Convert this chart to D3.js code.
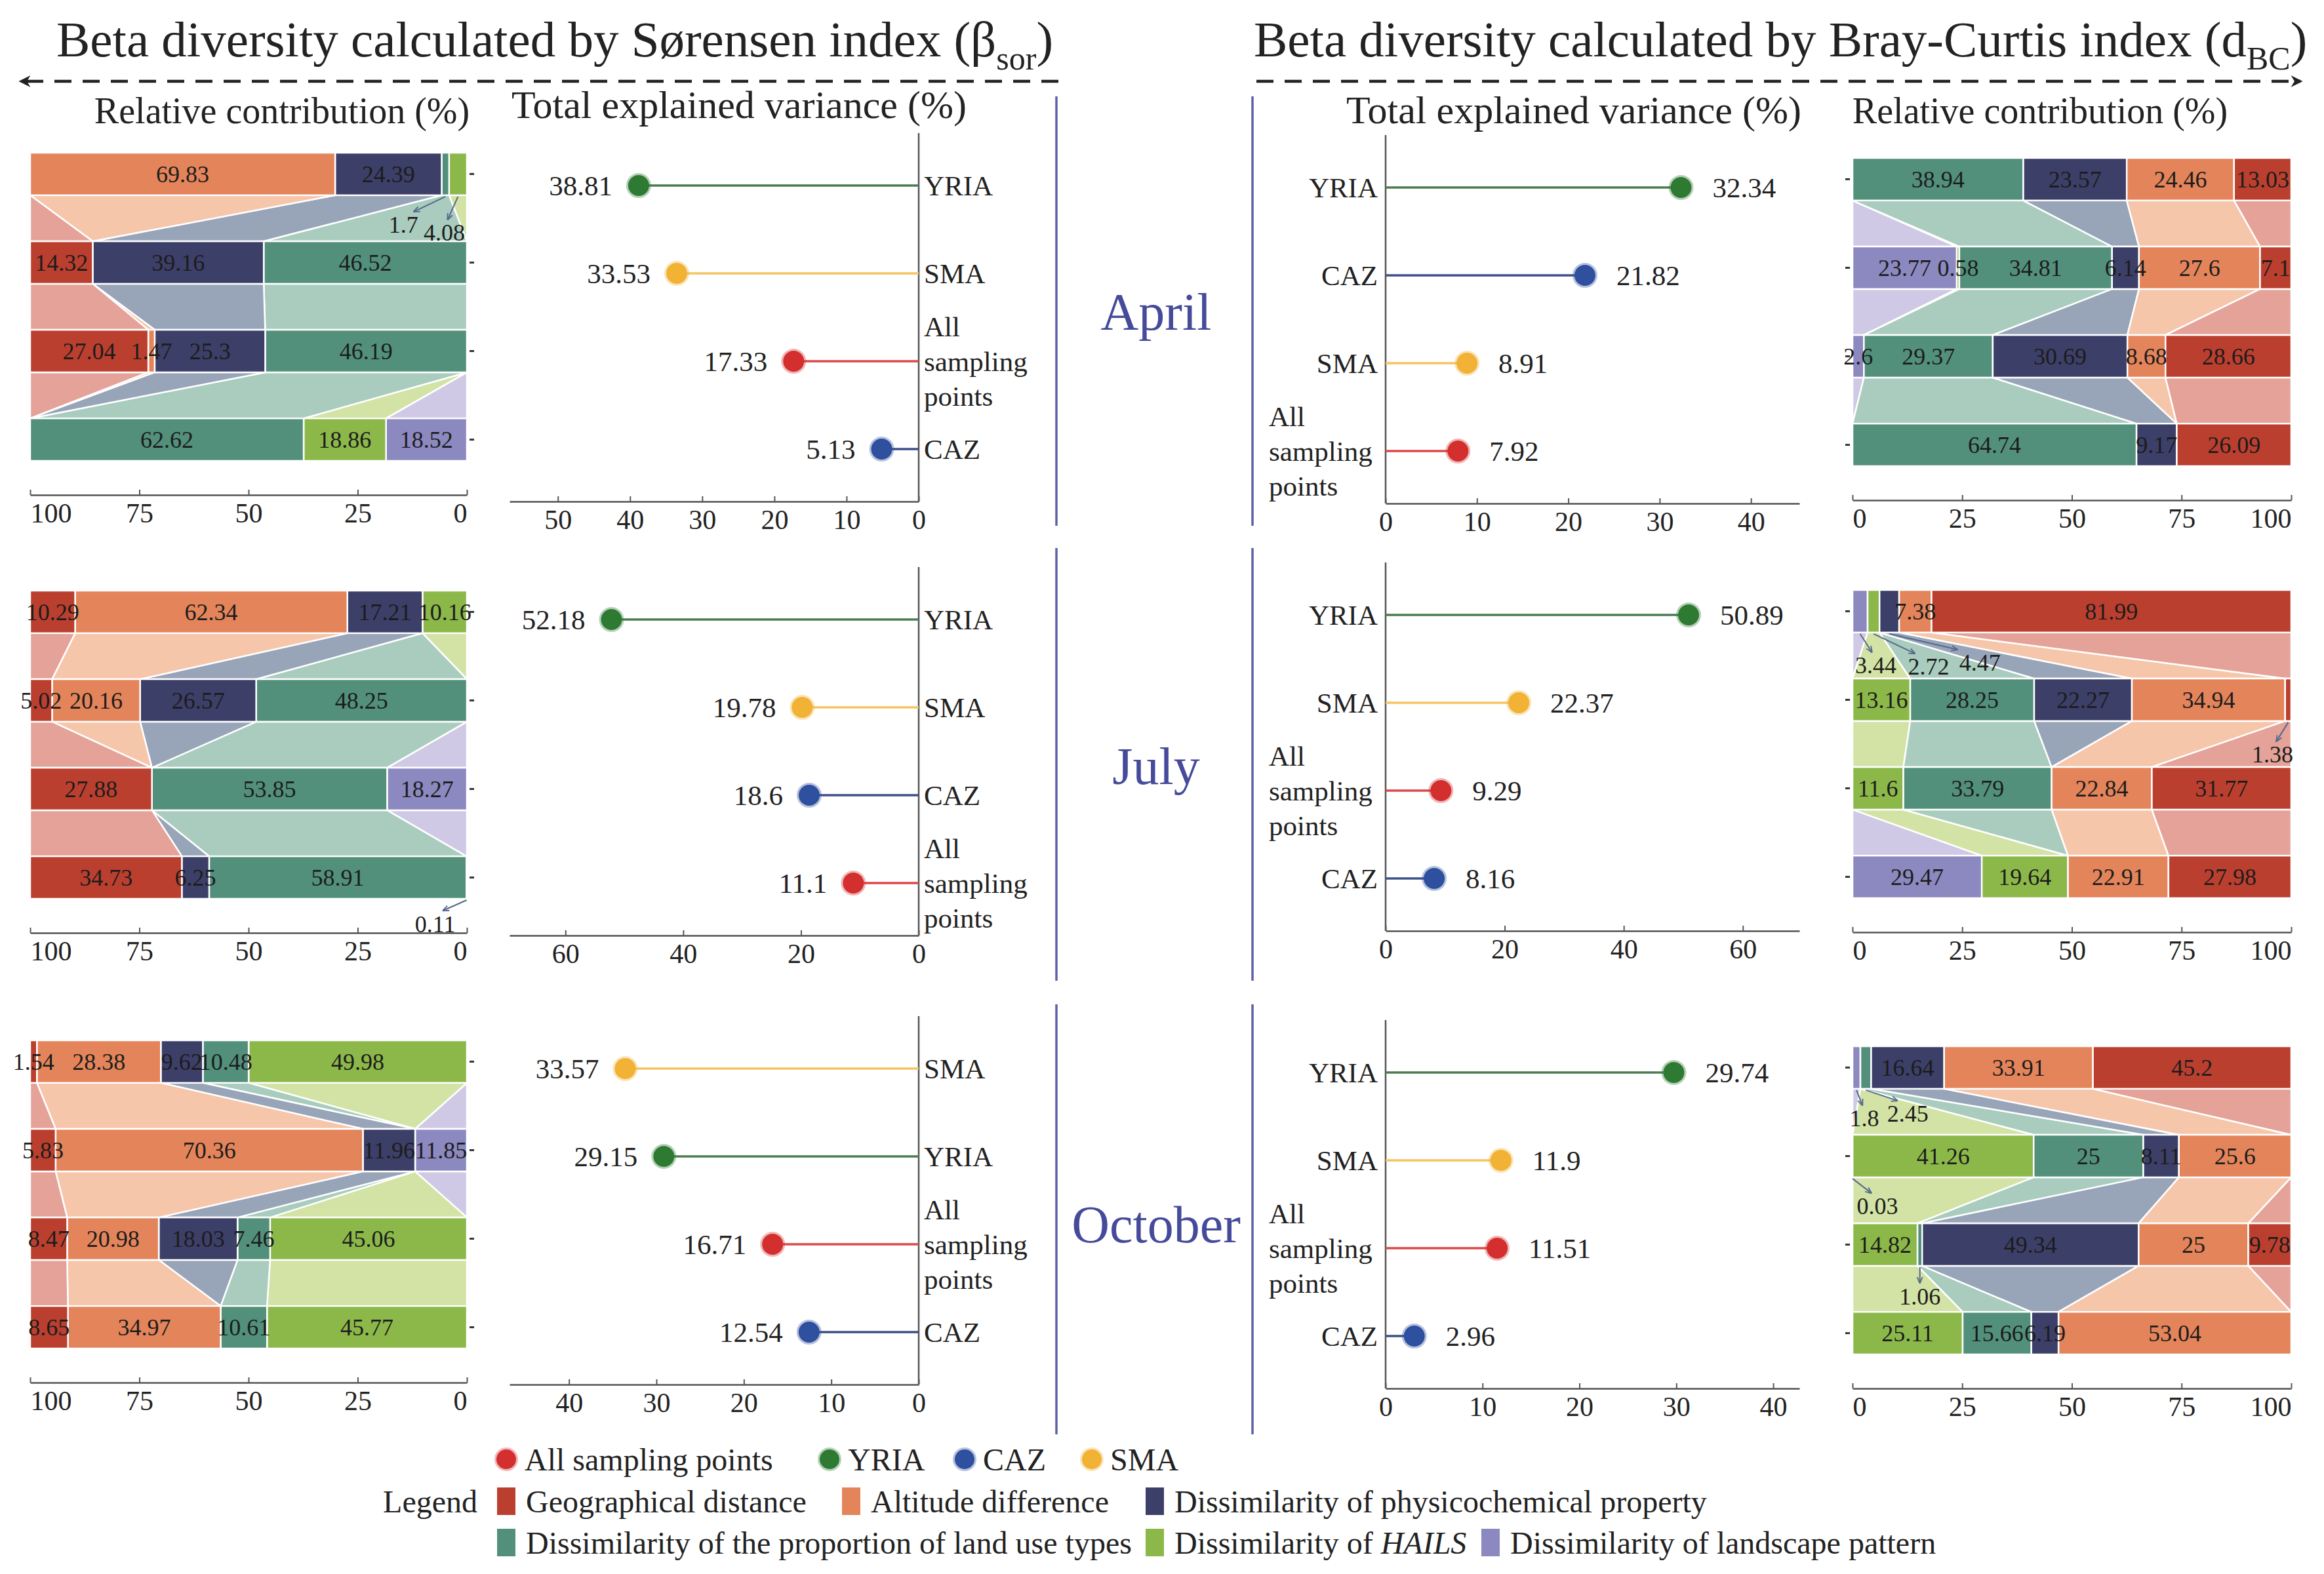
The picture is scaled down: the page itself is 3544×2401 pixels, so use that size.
<!DOCTYPE html>
<html>
<head>
<meta charset="utf-8">
<title>Beta diversity - variance partitioning</title>
<script src="https://cdn.jsdelivr.net/npm/d3@7"></script>
<style>
  body { margin: 0; background: #fff; }
  text { font-family: "Liberation Serif", "Times New Roman", serif; fill: #222; }
</style>
</head>
<body>
<script>
var WIDTH = 3544;
var HEIGHT = 2401;

//=========== data
var months = ["April", "July", "October"];
var factors = ["Geographical distance", "Altitude difference",
               "Dissimilarity of physicochemical property",
               "Dissimilarity of the proportion of land use types",
               "Dissimilarity of HAILS", "Dissimilarity of landscape pattern"];
var groups = ["All sampling points", "YRIA", "CAZ", "SMA"];
var pctTicks = [0, 25, 50, 75, 100];

// Sørensen (left half), rows top -> bottom, values in factor order above
var sorRegions = [["YRIA", "SMA", "All sampling points", "CAZ"],
                  ["YRIA", "SMA", "CAZ", "All sampling points"],
                  ["SMA", "YRIA", "All sampling points", "CAZ"]];
var sorVariance = [[38.81, 33.53, 17.33, 5.13],
                   [52.18, 19.78, 18.6, 11.1],
                   [33.57, 29.15, 16.71, 12.54]];
var sorApril = [[0, 69.83, 24.39, 1.7, 4.08, 0],
                [14.32, 0, 39.16, 46.52, 0, 0],
                [27.04, 1.47, 25.3, 46.19, 0, 0],
                [0, 0, 0, 62.62, 18.86, 18.52]];
var sorJuly = [[10.29, 62.34, 17.21, 0, 10.16, 0],
               [5.02, 20.16, 26.57, 48.25, 0, 0],
               [27.88, 0, 0, 53.85, 0, 18.27],
               [34.73, 0, 6.25, 58.91, 0, 0.11]];
var sorOctober = [[1.54, 28.38, 9.62, 10.48, 49.98, 0],
                  [5.83, 70.36, 11.96, 0, 0, 11.85],
                  [8.47, 20.98, 18.03, 7.46, 45.06, 0],
                  [8.65, 34.97, 0, 10.61, 45.77, 0]];
var sorTicks = [[0, 10, 20, 30, 40, 50], [0, 20, 40, 60], [0, 10, 20, 30, 40]];
var sorAxisMax = [56.7, 69.5, 46.8];

// Bray-Curtis (right half)
var bcRegions = [["YRIA", "CAZ", "SMA", "All sampling points"],
                 ["YRIA", "SMA", "All sampling points", "CAZ"],
                 ["YRIA", "SMA", "All sampling points", "CAZ"]];
var bcVariance = [[32.34, 21.82, 8.91, 7.92],
                  [50.89, 22.37, 9.29, 8.16],
                  [29.74, 11.9, 11.51, 2.96]];
var bcApril = [[13.03, 24.46, 23.57, 38.94, 0, 0],
               [7.1, 27.6, 6.14, 34.81, 0.58, 23.77],
               [28.66, 8.68, 30.69, 29.37, 0, 2.6],
               [26.09, 0, 9.17, 64.74, 0, 0]];
var bcJuly = [[81.99, 7.38, 4.47, 0, 2.72, 3.44],
              [1.38, 34.94, 22.27, 28.25, 13.16, 0],
              [31.77, 22.84, 0, 33.79, 11.6, 0],
              [27.98, 22.91, 0, 0, 19.64, 29.47]];
var bcOctober = [[45.2, 33.91, 16.64, 2.45, 0, 1.8],
                 [0, 25.6, 8.11, 25, 41.26, 0.03],
                 [9.78, 25, 49.34, 1.06, 14.82, 0],
                 [0, 53.04, 6.19, 15.66, 25.11, 0]];
var bcTicks = [[0, 10, 20, 30, 40], [0, 20, 40, 60], [0, 10, 20, 30, 40]];
var bcAxisMax = [45.3, 69.5, 42.7];

var sorContribution = [sorApril, sorJuly, sorOctober];
var bcContribution = [bcApril, bcJuly, bcOctober];

//=========== styles / layout
var barColor  = ["#bb3f2f", "#e4845a", "#3c3f68", "#52907c", "#8cb84a", "#8c88c0"];
var bandColor = ["#e4a298", "#f6c6ab", "#98a5b9", "#a9ccbe", "#d2e3a5", "#d0c9e6"];
var dotColor  = {"All sampling points": "#d42f2f", "YRIA": "#2f7a33", "CAZ": "#2f4f9f", "SMA": "#f2b235"};
var stemColor = {"All sampling points": "#d94a4a", "YRIA": "#4a7d52", "CAZ": "#3e5088", "SMA": "#f5c462"};

var sorBarTop = [233, 901, 1587], bcBarTop = [241, 900, 1596];
var sorLolliTop = [283, 945, 1630], bcLolliTop = [286, 938, 1636];
var ROW = 134;

// small segments labelled outside with an arrow (text offset from segment bottom centre)
var callouts = [
  {side: "sor", m: 0, row: 0, f: 3, dx: -64, dy: 45},
  {side: "sor", m: 0, row: 0, f: 4, dx: -21, dy: 57},
  {side: "sor", m: 1, row: 3, f: 5, dx: -48, dy: 38},
  {side: "bc", m: 1, row: 0, f: 5, dx: 24, dy: 50},
  {side: "bc", m: 1, row: 0, f: 4, dx: 84, dy: 52},
  {side: "bc", m: 1, row: 0, f: 2, dx: 138, dy: 46},
  {side: "bc", m: 1, row: 1, f: 0, dx: -24, dy: 51},
  {side: "bc", m: 2, row: 0, f: 5, dx: 12, dy: 45},
  {side: "bc", m: 2, row: 0, f: 3, dx: 64, dy: 38},
  {side: "bc", m: 2, row: 1, f: 5, dx: 38, dy: 44},
  {side: "bc", m: 2, row: 2, f: 3, dx: 0, dy: 46}
];

var svg = d3.select("body").append("svg")
            .attr("width", WIDTH)
            .attr("height", HEIGHT);
svg.append("rect").attr("width", WIDTH).attr("height", HEIGHT).attr("fill", "#fff");

var defs = svg.append("defs");
defs.append("marker").attr("id", "arr").attr("viewBox", "0 0 10 10")
    .attr("refX", 9).attr("refY", 5).attr("markerWidth", 5).attr("markerHeight", 5)
    .attr("orient", "auto")
  .append("path").attr("d", "M0,1 L10,5 L0,9").attr("fill", "none")
    .attr("stroke", "#56688c").attr("stroke-width", 1.8);
defs.append("marker").attr("id", "bigarr").attr("viewBox", "0 0 10 10")
    .attr("refX", 8).attr("refY", 5).attr("markerWidth", 4).attr("markerHeight", 4)
    .attr("orient", "auto")
  .append("path").attr("d", "M0,0 L10,5 L0,10 L3,5 Z").attr("fill", "#222");

//=========== titles
function title(x, main, sub) {
  var t = svg.append("text").attr("x", x).attr("y", 86).attr("font-size", 77);
  t.append("tspan").text(main);
  t.append("tspan").attr("font-size", 50).attr("dy", 20).text(sub);
  t.append("tspan").attr("dy", -20).text(")");
}
title(86, "Beta diversity calculated by S\u00f8rensen index (\u03b2", "sor");
title(1912, "Beta diversity calculated by Bray-Curtis index (d", "BC");

svg.append("line").attr("x1", 1614).attr("x2", 32).attr("y1", 124).attr("y2", 124)
   .attr("stroke", "#222").attr("stroke-width", 4.5).attr("stroke-dasharray", "26,17")
   .attr("marker-end", "url(#bigarr)");
svg.append("line").attr("x1", 1916).attr("x2", 3508).attr("y1", 124).attr("y2", 124)
   .attr("stroke", "#222").attr("stroke-width", 4.5).attr("stroke-dasharray", "26,17")
   .attr("marker-end", "url(#bigarr)");

[[430, 188, 56, "Relative contribution (%)"], [1127, 180, 60, "Total explained variance (%)"],
 [2400, 188, 60, "Total explained variance (%)"], [3111, 188, 56, "Relative contribution (%)"]]
  .forEach(function(h) {
    svg.append("text").attr("x", h[0]).attr("y", h[1]).attr("text-anchor", "middle")
       .attr("font-size", h[2]).text(h[3]);
  });

//=========== month dividers
var dividerY = [[147, 802], [836, 1496], [1532, 2188]];
var monthY = [475, 1168, 1867];
months.forEach(function(m, i) {
  [1611, 1910].forEach(function(x) {
    svg.append("line").attr("x1", x).attr("x2", x)
       .attr("y1", dividerY[i][0]).attr("y2", dividerY[i][1])
       .attr("stroke", "#5b5fa6").attr("stroke-width", 3.5);
  });
  svg.append("text").attr("x", 1763).attr("y", monthY[i]).attr("dy", "0.35em")
     .attr("text-anchor", "middle").attr("font-size", 80)
     .style("fill", "#454a9a").text(m);
});

//=========== stacked relative contribution
var stack = d3.stack().keys([5, 4, 3, 2, 1, 0]); // from axis origin outward

function drawStack(rows, top, x, side, m) {
  var g = svg.append("g");
  var y = d3.scaleBand().domain(d3.range(rows.length))
            .range([top, top + 3 * 135 + 65]).paddingInner(0.52).paddingOuter(0);
  var series = stack(rows);

  // connecting bands between neighbouring bars
  series.forEach(function(s) {
    var f = s.key;
    for (var r = 0; r < rows.length - 1; r++) {
      var a = s[r], b = s[r + 1];
      if (a[1] - a[0] <= 0 && b[1] - b[0] <= 0) continue;
      var yb = y(r) + y.bandwidth(), yt = y(r + 1);
      g.append("path")
       .attr("d", d3.line()([[x(a[0]), yb], [x(a[1]), yb], [x(b[1]), yt], [x(b[0]), yt]]) + "Z")
       .attr("fill", bandColor[f]).attr("stroke", "#fff").attr("stroke-width", 2.5);
    }
  });

  // bars
  series.forEach(function(s) {
    var f = s.key;
    g.selectAll(null).data(s.filter(function(d) { return d[1] - d[0] > 0; }))
      .enter().append("rect")
      .attr("x", function(d) { return Math.min(x(d[0]), x(d[1])); })
      .attr("y", function(d) { return y(s.indexOf(d)); })
      .attr("width", function(d) { return Math.abs(x(d[1]) - x(d[0])); })
      .attr("height", y.bandwidth())
      .attr("fill", barColor[f]).attr("stroke", "#fff").attr("stroke-width", 2.5);
  });

  var outside = callouts.filter(function(c) { return c.side === side && c.m === m; });
  function isOut(r, f) {
    return outside.some(function(c) { return c.row === r && c.f === f; });
  }

  // labels
  series.forEach(function(s) {
    var f = s.key;
    s.forEach(function(d, r) {
      var v = rows[r][f];
      if (!(v > 0) || isOut(r, f)) return;
      g.append("text").attr("x", x((d[0] + d[1]) / 2)).attr("y", y(r) + y.bandwidth() / 2)
       .attr("dy", "0.35em").attr("text-anchor", "middle").attr("font-size", 36)
       .style("fill", "#1c1c1c").text(v);
    });
  });

  outside.forEach(function(c) {
    var d = series.find(function(s) { return s.key === c.f; })[c.row];
    var sx = x((d[0] + d[1]) / 2), sy = y(c.row) + y.bandwidth();
    var tx = sx + c.dx, ty = sy + c.dy;
    g.append("line").attr("x1", sx).attr("y1", sy + 2)
     .attr("x2", sx + c.dx * 0.75).attr("y2", ty - 20)
     .attr("stroke", "#56688c").attr("stroke-width", 2).attr("marker-end", "url(#arr)");
    g.append("text").attr("x", tx).attr("y", ty).attr("dy", "0.35em")
     .attr("text-anchor", "middle").attr("font-size", 36).style("fill", "#1c1c1c")
     .text(rows[c.row][c.f]);
  });

  // y ticks
  var tx0 = side === "sor" ? x(0) + 4 : x(0) - 4;
  var tx1 = side === "sor" ? x(0) + 11 : x(0) - 11;
  d3.range(rows.length).forEach(function(r) {
    var yc = y(r) + y.bandwidth() / 2;
    g.append("line").attr("x1", tx0).attr("x2", tx1).attr("y1", yc).attr("y2", yc)
     .attr("stroke", "#333").attr("stroke-width", 3);
  });

  // x axis, end labels kept inside the axis span
  var ax = g.append("g").attr("transform", "translate(0," + (top + 522) + ")")
            .call(d3.axisBottom(x).tickValues(pctTicks).tickSizeInner(-8)
                    .tickSizeOuter(0).tickPadding(12));
  styleAxis(ax);
  var lo = d3.min(x.range()), hi = d3.max(x.range());
  ax.selectAll(".tick text").attr("text-anchor", function(d) {
    var px = x(d);
    return px === lo ? "start" : (px === hi ? "end" : "middle");
  });
}

function styleAxis(ax) {
  ax.select(".domain").attr("stroke", "#555").attr("stroke-width", 2.5);
  ax.selectAll(".tick line").attr("stroke", "#555").attr("stroke-width", 2);
  ax.selectAll(".tick text").attr("font-size", 42)
    .attr("font-family", "Liberation Serif, Times New Roman, serif").style("fill", "#222");
}

var xSorBar = d3.scaleLinear().domain([100, 0]).range([46, 712]);
var xBcBar = d3.scaleLinear().domain([0, 100]).range([2825, 3494]);

months.forEach(function(m, i) {
  drawStack(sorContribution[i], sorBarTop[i], xSorBar, "sor", i);
  drawStack(bcContribution[i], bcBarTop[i], xBcBar, "bc", i);
});

//=========== lollipops of total explained variance
function drawLolli(vals, regions, top, x, ticks, side) {
  var g = svg.append("g");
  var y = d3.scalePoint().domain(d3.range(vals.length)).range([top, top + 3 * ROW]);
  var x0 = x(0);
  var base = top + 3 * ROW + 80;

  g.append("line").attr("x1", x0).attr("x2", x0).attr("y1", top - 80).attr("y2", base)
   .attr("stroke", "#555").attr("stroke-width", 2.5);

  var ax = g.append("g").attr("transform", "translate(0," + base + ")")
            .call(d3.axisBottom(x).tickValues(ticks).tickSizeInner(-8)
                    .tickSizeOuter(0).tickPadding(12));
  styleAxis(ax);

  vals.forEach(function(v, i) {
    var reg = regions[i], yc = y(i);
    g.append("line").attr("x1", x0).attr("x2", x(v)).attr("y1", yc).attr("y2", yc)
     .attr("stroke", stemColor[reg]).attr("stroke-width", 3.5);
    g.append("circle").attr("cx", x(v)).attr("cy", yc).attr("r", 16)
     .attr("fill", dotColor[reg]).attr("stroke", dotColor[reg])
     .attr("stroke-opacity", 0.35).attr("stroke-width", 6);
    g.append("text").attr("x", side === "sor" ? x(v) - 40 : x(v) + 48).attr("y", yc)
     .attr("dy", "0.35em").attr("text-anchor", side === "sor" ? "end" : "start")
     .attr("font-size", 43).text(v);

    if (reg === "All sampling points") {
      var lx = side === "sor" ? x0 + 8 : x0 - 178;
      ["All", "sampling", "points"].forEach(function(w, k) {
        g.append("text").attr("x", lx).attr("y", yc + (k - 1) * 53).attr("dy", "0.35em")
         .attr("font-size", 43).text(w);
      });
    } else {
      g.append("text").attr("x", side === "sor" ? x0 + 8 : x0 - 12).attr("y", yc)
       .attr("dy", "0.35em").attr("text-anchor", side === "sor" ? "start" : "end")
       .attr("font-size", 43).text(reg);
    }
  });
}

months.forEach(function(m, i) {
  var xs = d3.scaleLinear().domain([0, sorAxisMax[i]]).range([1401, 777]);
  drawLolli(sorVariance[i], sorRegions[i], sorLolliTop[i], xs, sorTicks[i], "sor");
  var xb = d3.scaleLinear().domain([0, bcAxisMax[i]]).range([2113, 2744]);
  drawLolli(bcVariance[i], bcRegions[i], bcLolliTop[i], xb, bcTicks[i], "bc");
});

//=========== legend
var dotLegendX = [772, 1265, 1471, 1665];
groups.forEach(function(gname, i) {
  svg.append("circle").attr("cx", dotLegendX[i]).attr("cy", 2226).attr("r", 15)
     .attr("fill", dotColor[gname]).attr("stroke", dotColor[gname])
     .attr("stroke-opacity", 0.35).attr("stroke-width", 6);
  svg.append("text").attr("x", dotLegendX[i] + 28).attr("y", 2226).attr("dy", "0.35em")
     .attr("font-size", 48).text(gname);
});

svg.append("text").attr("x", 728).attr("y", 2290).attr("dy", "0.35em")
   .attr("text-anchor", "end").attr("font-size", 48).text("Legend");

var rectLegendPos = [[758, 2290], [1284, 2290], [1747, 2290], [758, 2353], [1747, 2353], [2259, 2353]];
factors.forEach(function(f, i) {
  var p = rectLegendPos[i];
  svg.append("rect").attr("x", p[0]).attr("y", p[1] - 21).attr("width", 28).attr("height", 42)
     .attr("fill", barColor[i]);
  var t = svg.append("text").attr("x", p[0] + 44).attr("y", p[1]).attr("dy", "0.35em")
             .attr("font-size", 48);
  if (f.indexOf("HAILS") >= 0) {
    t.append("tspan").text("Dissimilarity of ");
    t.append("tspan").attr("font-style", "italic").text("HAILS");
  } else {
    t.text(f);
  }
});
</script>
</body>
</html>
